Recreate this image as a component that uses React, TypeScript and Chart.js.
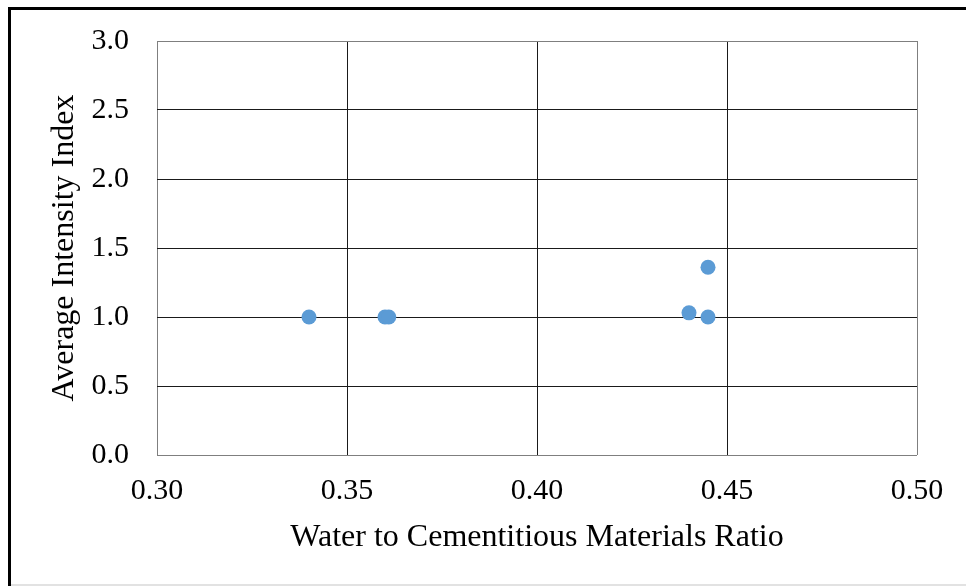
import React, { useEffect, useRef } from "react";
import { Chart, registerables } from "chart.js";

Chart.register(...registerables);

const wcmRatio: number[] = [0.34, 0.36, 0.361, 0.44, 0.445, 0.445];
const intensityIndex: number[] = [1.0, 1.0, 1.0, 1.03, 1.36, 1.0];
const xTitle = "Water to Cementitious Materials Ratio";
const yTitle = "Average Intensity Index";

const W = 966;
const H = 586;
const FONT = "'Liberation Serif', 'Times New Roman', serif";

const framePlugin = {
  id: "frame",
  beforeDraw(chart: any) {
    const ctx = chart.ctx;
    ctx.save();
    ctx.fillStyle = "#ffffff";
    ctx.fillRect(0, 0, W, H);
    ctx.fillStyle = "#000000";
    ctx.fillRect(8, 7, 3, H - 7);
    ctx.fillRect(8, 7, W - 8, 3);
    ctx.fillStyle = "#e2e2e2";
    ctx.fillRect(11, 584, W - 11, 2);
    ctx.restore();
  },
};

export default function App() {
  const ref = useRef<HTMLCanvasElement | null>(null);

  useEffect(() => {
    if (!ref.current) return;
    const points = wcmRatio.map((x, i) => ({ x, y: intensityIndex[i] }));
    const gridColor = (c: any) => {
      const n = c.scale.ticks.length;
      return c.index === 0 || c.index === n - 1 ? "#7f7f7f" : "#1a1a1a";
    };
    const chart = new Chart(ref.current, {
      type: "scatter",
      data: {
        datasets: [
          {
            data: points,
            backgroundColor: "#5B9BD5",
            borderWidth: 0,
            pointRadius: 7.5,
            pointHoverRadius: 7.5,
          },
        ],
      },
      options: {
        responsive: false,
        animation: false,
        events: [],
        layout: { padding: { left: 0, top: 41, right: 49, bottom: 0 } },
        plugins: { legend: { display: false }, tooltip: { enabled: false } },
        scales: {
          x: {
            type: "linear",
            min: 0.3,
            max: 0.5,
            afterFit: (s: any) => {
              s.height = 131;
              s.paddingLeft = 0;
              s.paddingRight = 0;
            },
            ticks: {
              stepSize: 0.05,
              callback: (v: any) => Number(v).toFixed(2),
              font: { family: FONT, size: 30 },
              color: "#000000",
              padding: 18,
              maxRotation: 0,
            },
            grid: { color: gridColor, lineWidth: 1, drawTicks: false },
            border: { display: false },
            title: {
              display: true,
              text: xTitle,
              font: { family: FONT, size: 32 },
              color: "#000000",
              padding: { top: 0, bottom: 29 },
            },
          },
          y: {
            type: "linear",
            min: 0,
            max: 3,
            afterFit: (s: any) => {
              s.width = 157;
              s.paddingTop = 0;
              s.paddingBottom = 0;
            },
            ticks: {
              stepSize: 0.5,
              callback: (v: any) => Number(v).toFixed(1),
              font: { family: FONT, size: 30 },
              color: "#000000",
              padding: 28,
            },
            grid: { color: gridColor, lineWidth: 1, drawTicks: false },
            border: { display: false },
            title: {
              display: true,
              text: yTitle,
              font: { family: FONT, size: 32 },
              color: "#000000",
              padding: { top: 45, bottom: 0 },
            },
          },
        },
      },
      plugins: [framePlugin],
    });
    return () => chart.destroy();
  }, []);

  return (
    <div style={{ position: "absolute", left: 0, top: 0, width: W, height: H }}>
      <canvas ref={ref} width={W} height={H} style={{ width: W, height: H, display: "block" }} />
    </div>
  );
}
